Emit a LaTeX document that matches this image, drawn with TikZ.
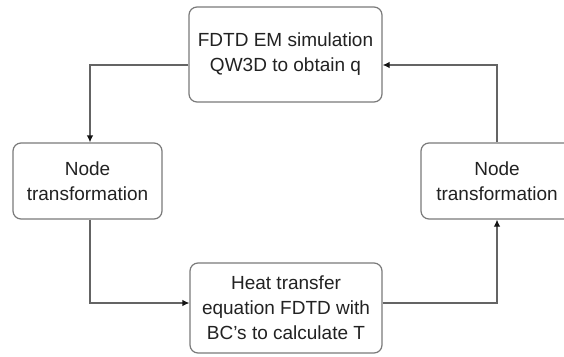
\documentclass[tikz,border=0pt]{standalone}
\usepackage{fontspec}
\setmainfont{Liberation Sans}
\usetikzlibrary{arrows.meta,calc}
\definecolor{boxline}{HTML}{7A7A7A}
\definecolor{wire}{HTML}{646464}
\definecolor{tipcol}{HTML}{151515}
\definecolor{txt}{HTML}{222222}
\begin{document}
\begin{tikzpicture}[x=1pt,y=-1pt,
  stepbox/.style={draw=boxline, line width=1.2pt, rounded corners=8pt,
    fill=white, align=center, text=txt, inner sep=0pt,
    font=\fontsize{19}{25}\selectfont},
  link/.style={draw=wire, line width=1.2pt,
    -{Latex[length=7pt,width=6.5pt,color=tipcol]}}]
\clip (0,0) rectangle (564,356);
\fill[white] (0,0) rectangle (564,356);

% process boxes
\node[stepbox, minimum width=193pt, minimum height=95pt] (em) at (285.5,54.5)
  {FDTD EM simulation\\QW3D to obtain q};
\node[stepbox, minimum width=149pt, minimum height=76pt] (ntl) at (87.5,181)
  {Node\\transformation};
\node[stepbox, minimum width=152pt, minimum height=76pt] (ntr) at (497,181)
  {Node\\transformation};
\node[stepbox, minimum width=192pt, minimum height=90pt] (heat) at (286,308)
  {Heat transfer\\equation FDTD with\\BC's to calculate T};

% routing levels for the loop
\coordinate (rowA) at (0,65);
\coordinate (rowB) at (0,303);
\coordinate (colL) at (90,0);

% connectors
\draw[link] (em.west |- rowA) -| (colL |- ntl.north);
\draw[link] (colL |- ntl.south) |- (heat.west |- rowB);
\draw[link] (heat.east |- rowB) -| (ntr.south);
\draw[link] (ntr.north) |- (em.east |- rowA);
\end{tikzpicture}
\end{document}
